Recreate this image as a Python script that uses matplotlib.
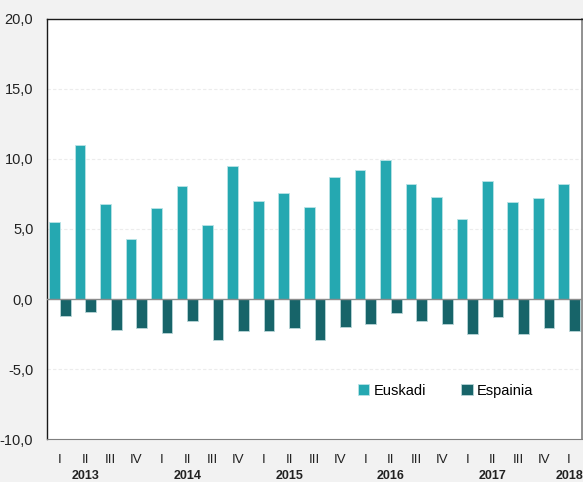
import numpy as np
import matplotlib
matplotlib.use("Agg")
import matplotlib.pyplot as plt
from matplotlib.ticker import FuncFormatter, MultipleLocator
import matplotlib.transforms as mtransforms

# quarterly data 2013 I .. 2018 I
quarters = ["I", "II", "III", "IV"] * 5 + ["I"]
years = ["2013", "2014", "2015", "2016", "2017", "2018"]
euskadi = [5.5, 11.0, 6.8, 4.3, 6.5, 8.1, 5.3, 9.5, 7.0, 7.6, 6.6,
           8.7, 9.2, 9.9, 8.2, 7.3, 5.7, 8.4, 6.9, 7.2, 8.2]
espainia = [-1.2, -0.9, -2.2, -2.1, -2.4, -1.6, -2.9, -2.3, -2.3, -2.1, -2.9,
            -2.0, -1.8, -1.0, -1.6, -1.8, -2.5, -1.3, -2.5, -2.1, -2.3]

plt.rcParams['font.family'] = ['Liberation Sans', 'DejaVu Sans']

fig = plt.figure(figsize=(5.83, 4.82), dpi=100, facecolor='#f2f2f2')
ax = fig.add_axes([0.081, 0.089, 0.917, 0.872])
ax.set_facecolor('white')

x = np.arange(len(euskadi))
w = 0.42
ax.bar(x - w / 2, euskadi, width=w, color='#25a8b1', edgecolor='#b9e3e6',
       linewidth=0.6, label='Euskadi', zorder=3)
ax.bar(x + w / 2, espainia, width=w, color='#176469', edgecolor='#b9d6d8',
       linewidth=0.6, label='Espainia', zorder=3)

ax.set_xlim(-0.5, len(euskadi) - 0.5)
ax.set_ylim(-10, 20)
ax.yaxis.set_major_locator(MultipleLocator(5))
ax.yaxis.set_major_formatter(FuncFormatter(lambda v, p: f'{v:.1f}'.replace('.', ',')))

for v in [-5, 5, 10, 15]:
    ax.axhline(v, color='#ececec', linewidth=0.8, linestyle=(0, (3, 2)), zorder=1)
ax.axhline(0, color='#8c8c8c', linewidth=1.0, zorder=4)

ax.set_xticks(x)
ax.set_xticklabels(quarters, fontsize=9.5)
ax.tick_params(axis='x', length=0, pad=11, colors='#222222')
ax.tick_params(axis='y', length=0, pad=10, labelsize=10.5, colors='#222222')

# year labels sit under the 2nd quarter (last one under its only quarter)
trans = mtransforms.blended_transform_factory(ax.transData, ax.transAxes)
year_pos = [1, 5, 9, 13, 17, 20]
for yr, pos in zip(years, year_pos):
    ax.text(pos, -0.087, yr, transform=trans, ha='center', va='center',
            fontsize=9, fontweight='bold', color='#222222')

for side in ['left', 'top']:
    ax.spines[side].set_color('#1a1a1a')
    ax.spines[side].set_linewidth(1.0)
ax.spines['bottom'].set_color('#7f7f7f')
ax.spines['right'].set_color('#7f7f7f')
ax.spines['right'].set_linewidth(1.2)

ax.legend(loc='center', bbox_to_anchor=(0.745, 0.115), ncol=2, frameon=False,
          fontsize=10.5, handlelength=0.8, handleheight=0.8, columnspacing=2.4,
          handletextpad=0.3)

fig.savefig('out.png', dpi=100, facecolor=fig.get_facecolor())
